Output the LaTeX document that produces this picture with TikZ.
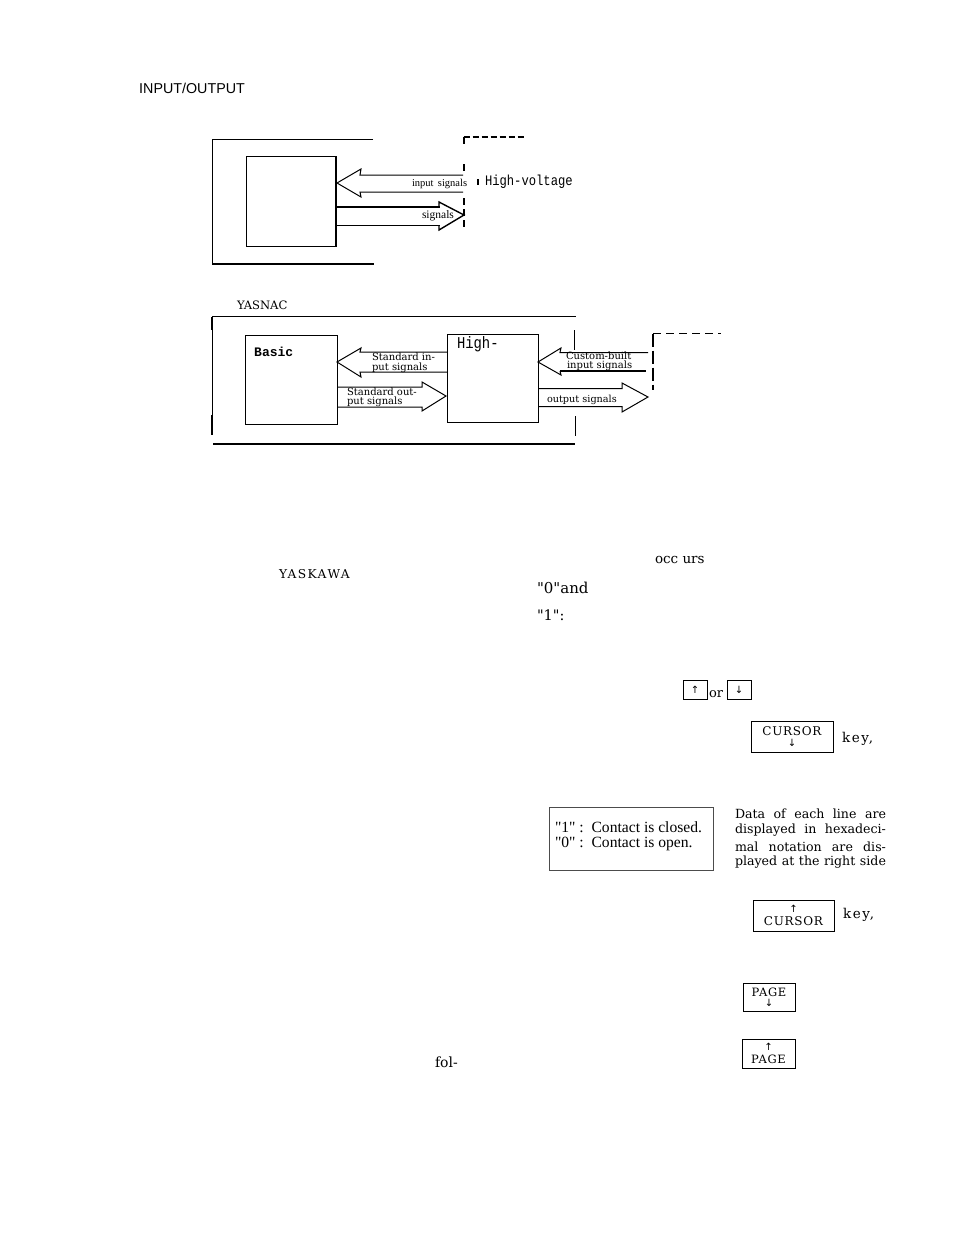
\documentclass[tikz,border=0pt]{standalone}
\usepackage{fontspec}
\newfontfamily\bodyf{DejaVu Serif}
\newfontfamily\sansf{Liberation Sans}
\newfontfamily\seriff{Liberation Serif}
\newfontfamily\monof{Liberation Mono}
\newfontfamily\monotall[FakeStretch=0.84]{Liberation Mono}
\newfontfamily\keyf[LetterSpace=6]{DejaVu Serif}
\newfontfamily\wordf[LetterSpace=12]{DejaVu Serif}
\newfontfamily\arrowf{DejaVu Sans}
\newcommand{\upar}{{\arrowf\fontsize{10}{10}\selectfont ↑}}
\newcommand{\dnar}{{\arrowf\fontsize{10}{10}\selectfont ↓}}
\newcommand{\fitline}[1]{\makebox[151pt][s]{#1}}
\tikzset{
  x=1pt,y=-1pt,
  frameline/.style={line width=1pt,black},
  heavy/.style={line width=2pt,black},
  blockbox/.style={draw,line width=1pt,anchor=north west,inner sep=0pt,outer sep=0pt},
  lbl/.style={anchor=west,inner sep=0pt,outer sep=0pt,font=\seriff\fontsize{#1}{#1}\selectfont},
  body/.style={anchor=west,inner sep=0pt,outer sep=0pt,font=\bodyf\fontsize{#1}{#1}\selectfont},
  spaced/.style={anchor=west,inner sep=0pt,outer sep=0pt,font=\wordf\fontsize{#1}{#1}\selectfont},
  mono/.style={anchor=west,inner sep=0pt,outer sep=0pt,font=\monotall\fontsize{#1}{#1}\selectfont},
  keycap/.style={draw,line width=1pt,inner sep=0pt,align=center,font=\keyf\fontsize{#1}{#1}\selectfont},
}
\begin{document}
\begin{tikzpicture}
\useasboundingbox (0,0) rectangle (954,1237);
% title
\node[anchor=west,inner sep=0pt,font=\sansf\fontsize{14.3}{14.3}\selectfont] (title) at (139,88) {INPUT/OUTPUT};

% ---------- upper diagram
\draw[frameline] (373,139.5) -- (212,139.5) -- (212,264);
\draw[heavy] (212,264) -- (374,264);
\node[blockbox,minimum width=90pt,minimum height=90pt] (basicA) at (246,156) {};
\draw[line width=1.8pt] (basicA.north east) -- (basicA.south east);
\draw[line width=1.2pt,dash pattern=on 6pt off 3pt] (463.5,137) -- (526,137);
\draw[line width=1.2pt] (464,137) -- (464,144);
\draw[line width=1.4pt] (464,164) -- (464,171);
\draw[line width=1.4pt,dash pattern=on 7pt off 4pt] (464,198) -- (464,229);
% input arrow
\coordinate (inA) at (337,183);
\draw[line width=1pt,line join=miter] (463,175) -- (360,175) -- (361,169) -- (inA) -- (361,197) -- (360,192) -- (463,192);
% output arrow
\coordinate (outA) at (464,215);
\draw[heavy] (337,206.5) -- (440,206.5);
\draw[line width=1pt] (337,225.5) -- (440,225.5);
\draw[line width=1.4pt,line join=miter] (439,206.5) -- (439,202) -- (outA) -- (439,230) -- (439,225.5);
\node[lbl=10.5] (t1) at (412,184) {input\, signals};
\node[lbl=11.5] (t2) at (422,216) {signals};
\node[mono=14.5] (t3) at (485,182) {High-voltage};
\draw[line width=1.2pt] (478,179) -- (478,185);

% ---------- lower diagram
\node[body=11.6] (yas) at (237,305) {YASNAC};
\draw[frameline] (212,316.5) -- (576,316.5);
\draw[line width=1.5pt] (212,316.5) -- (212,330);
\draw[frameline] (212,330) -- (212,415);
\draw[line width=1.5pt] (212,415) -- (212,435);
\draw[heavy] (213,444) -- (575,444);
\draw[line width=1.3pt] (574.5,330) -- (574.5,350);
\draw[line width=1pt] (575,416) -- (575,436);
\node[blockbox,minimum width=92pt,minimum height=89pt] (basicB) at (245,335) {};
\node[blockbox,minimum width=91pt,minimum height=88pt] (highB) at (447,334) {};
\node[anchor=west,inner sep=0pt,font=\monof\bfseries\fontsize{13}{13}\selectfont] (t4) at (254,352) {Basic};
\node[mono=16.5] (t5) at (457,344) {High-};
% standard input arrow
\draw[line width=1pt,line join=miter] (447,352) -- (360,352) -- (361,348) -- (337,362) -- (361,377) -- (360,372) -- (447,372);
% standard output arrow
\draw[line width=1pt,line join=miter] (337,387) -- (422,387) -- (422,382) -- (446,396) -- (422,411) -- (422,407) -- (337,407);
\node[body=10] (t6) at (372,357) {Standard in-};
\node[body=10] (t7) at (372,367.5) {put signals};
\node[body=10] (t8) at (347,392) {Standard out-};
\node[body=10] (t9) at (347,402) {put signals};
% custom input arrow
\draw[line width=1pt,line join=miter] (648,352.5) -- (560,352.5) -- (561,348) -- (538,362) -- (561,375) -- (560,371);
\draw[heavy] (560,371) -- (646,371);
% output arrow
\draw[line width=1pt,line join=miter] (538,388.5) -- (622,388.5) -- (622,383) -- (648,397) -- (622,412) -- (622,406.5) -- (538,406.5);
\node[body=10] (t10) at (566,355.5) {Custom-built};
\node[body=10] (t11) at (567,365.5) {input signals};
\node[body=9.7] (t12) at (547,400) {output signals};
% dashed
\draw[line width=1.2pt,dash pattern=on 8pt off 5pt] (653,333.5) -- (721,333.5);
\draw[line width=1.4pt,dash pattern=on 13pt off 4pt] (653,333.5) -- (653,390);

% ---------- scattered text
\node[body=13.5] (t13) at (655,560) {occ urs};
\node[spaced=12.2] (t14) at (279,574) {YASKAWA};
\node[body=15] (t15) at (537,588) {"0"and};
\node[body=14.5] (t16) at (537,615) {"1":};
\node[body=14] (t17) at (435,1062) {fol-};

% ---------- keys
\node[keycap=12,minimum width=24pt,minimum height=19pt] (k1) at (695,689.5) {\upar};
\node[keycap=12,minimum width=24pt,minimum height=19pt] (k2) at (739,689.5) {\dnar};
\node[body=13] (t18) at (709,694) {or};
\node[keycap=12,minimum width=82pt,minimum height=31pt] (k3) at (792,736.5) {CURSOR\\[-1pt]\dnar};
\node[spaced=13.5] (t19) at (842,739) {key,};
\node[keycap=12,minimum width=81pt,minimum height=31pt] (k4) at (793.5,915.5) {\upar\\[1.5pt]CURSOR};
\node[spaced=13.5] (t20) at (843,915) {key,};
\node[keycap=11.5,minimum width=52pt,minimum height=28pt] (k5) at (769,997) {PAGE\\[-1pt]\dnar};
\node[keycap=11.5,minimum width=53pt,minimum height=29pt] (k6) at (768.5,1053.5) {\upar\\[1.5pt]PAGE};

% ---------- note box
\node[draw,line width=0.8pt,black!70,minimum width=164pt,minimum height=63pt,anchor=north west,inner sep=0pt] (note) at (549,807) {};
\node[lbl=15.6] (t21) at (555,827) {"1" :\ \ Contact is closed.};
\node[lbl=15.6] (t22) at (555,844) {"0" :\ \ Contact is open.};
% paragraph
\node[body=12.6] (p1) at (735,813.5) {\fitline{Data of each line are}};
\node[body=12.6] (p2) at (735,830) {\fitline{displayed in hexadeci-}};
\node[body=12.6] (p3) at (735,847) {\fitline{mal notation are dis-}};
\node[body=12.6] (p4) at (735,862.5) {\fitline{played at the right side}};
\end{tikzpicture}
\end{document}
